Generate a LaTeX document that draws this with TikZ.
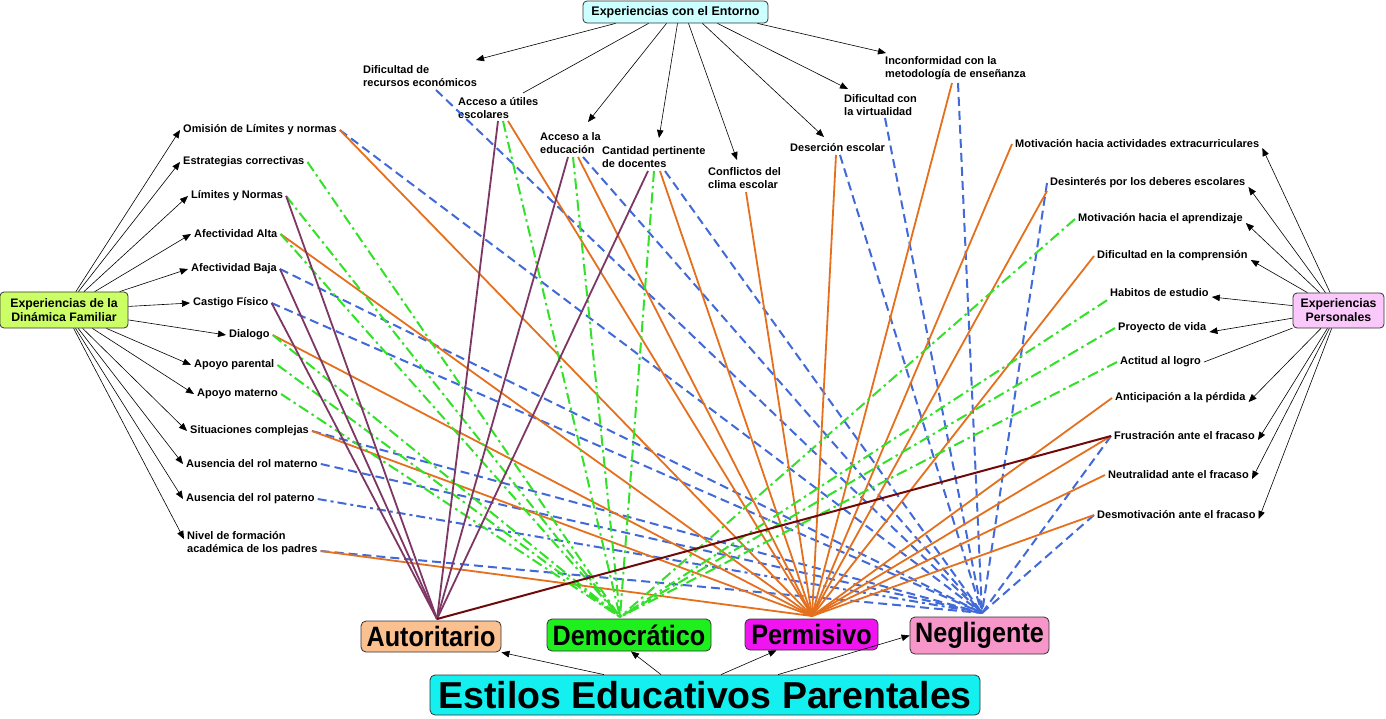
\documentclass[tikz,border=0pt]{standalone}
\usepackage{fontspec}
\setmainfont{Liberation Sans}
\newfontfamily\narrowfont[FakeStretch=0.9]{Liberation Sans}
\usetikzlibrary{arrows.meta}
\definecolor{cpur}{RGB}{125,55,100}
\definecolor{cgrn}{RGB}{50,225,40}
\definecolor{corg}{RGB}{228,112,30}
\definecolor{cblu}{RGB}{65,105,215}
\definecolor{cdred}{RGB}{110,10,10}
\definecolor{fent}{RGB}{204,255,255}
\definecolor{ffam}{RGB}{204,255,102}
\definecolor{fper}{RGB}{250,200,250}
\definecolor{faut}{RGB}{250,192,144}
\definecolor{fdem}{RGB}{30,240,30}
\definecolor{fperm}{RGB}{240,20,240}
\definecolor{fneg}{RGB}{247,150,200}
\definecolor{fest}{RGB}{20,240,240}
\newcommand\myitemfont{\fontsize{11}{13}\selectfont\bfseries}
\tikzset{
  item/.style={font=\myitemfont, inner sep=3pt, align=left, anchor=west},
  box/.style={draw=black!80, line width=0.8pt, rounded corners=4pt, inner sep=0pt, align=center},
  stylebox/.style={box, rounded corners=5pt, font=\narrowfont\bfseries\fontsize{28}{30}\selectfont},
  arr/.style={-{Triangle[length=8pt,width=6.5pt]}, line width=0.6pt, black},
  plainline/.style={line width=0.6pt, black},
  pur/.style={cpur, line width=1.8pt},
  grn/.style={cgrn, line width=2pt, dash pattern=on 11pt off 4pt on 2.5pt off 4pt},
  org/.style={corg, line width=1.8pt},
  blu/.style={cblu, line width=2pt, dash pattern=on 9pt off 5pt},
  bludd/.style={cblu, line width=2pt, dash pattern=on 9pt off 4pt on 3pt off 4pt},
  dred/.style={cdred, line width=2pt}
}
\begin{document}
\begin{tikzpicture}[x=1pt,y=-1pt]
\useasboundingbox[fill=white] (0,0) rectangle (1386,718);

% main boxes
\node[box, fill=fent, minimum width=185pt, minimum height=22pt, font=\fontsize{12.5}{14}\selectfont\bfseries] (ent) at (675.5,12) {Experiencias con el Entorno};
\node[box, fill=ffam, minimum width=128pt, minimum height=36pt, font=\fontsize{12.3}{14}\selectfont\bfseries] (fam) at (64,310) {Experiencias de la\\Dinámica Familiar};
\node[box, fill=fper, minimum width=91pt, minimum height=35pt, font=\fontsize{12.3}{14}\selectfont\bfseries] (per) at (1338.5,310.5) {Experiencias\\Personales};

\node[stylebox, fill=faut, minimum width=140pt, minimum height=31pt] (auto) at (431,636.5) {Autoritario};
\node[stylebox, fill=fdem, minimum width=164pt, minimum height=32pt] (demo) at (629,635) {Democrático};
\node[stylebox, fill=fperm, minimum width=133pt, minimum height=31pt] (perm) at (811.5,634.5) {Permisivo};
\node[stylebox, fill=fneg, minimum width=139pt, minimum height=37pt] (negl) at (979.5,635.5) {Negligente};
\node[box, rounded corners=5pt, fill=fest, minimum width=550pt, minimum height=40pt, font=\bfseries\fontsize{37.5}{40}\selectfont] (estilos) at (705,695) {Estilos Educativos Parentales};

% left items
\node[item] (om) at (180,130) {Omisión de Límites y normas};
\node[item] (estr) at (180,162) {Estrategias correctivas};
\node[item] (lim) at (188,196) {Límites y Normas};
\node[item] (aa) at (191,234) {Afectividad Alta};
\node[item] (ab) at (188,269) {Afectividad Baja};
\node[item] (cf) at (190,303) {Castigo Físico};
\node[item] (dia) at (226,335) {Dialogo};
\node[item] (ap) at (191,365) {Apoyo parental};
\node[item] (am) at (194,394) {Apoyo materno};
\node[item] (sc) at (187,431) {Situaciones complejas};
\node[item] (arm) at (183,464) {Ausencia del rol materno};
\node[item] (arp) at (183,499) {Ausencia del rol paterno};
\node[item] (nf) at (184,543) {Nivel de formación\\académica de los padres};

% top items
\node[item] (rec) at (360,76.5) {Dificultad de\\recursos económicos};
\node[item] (ut) at (455,108.5) {Acceso a útiles\\escolares};
\node[item] (edu) at (537,143.5) {Acceso a la\\educación};
\node[item] (doc) at (599,157.5) {Cantidad pertinente\\de docentes};
\node[item] (con) at (705,178.5) {Conflictos del\\clima escolar};
\node[item] (des) at (787,148) {Deserción escolar};
\node[item] (vir) at (841,105.5) {Dificultad con\\la virtualidad};
\node[item] (inc) at (882,68.5) {Inconformidad con la\\metodología de enseñanza};

% right items
\node[item] (mext) at (1012,144) {Motivación hacia actividades extracurriculares};
\node[item] (desi) at (1047,183) {Desinterés por los deberes escolares};
\node[item] (mapr) at (1075,219) {Motivación hacia el aprendizaje};
\node[item] (dcomp) at (1094,256) {Dificultad en la comprensión};
\node[item] (hab) at (1107,293) {Habitos de estudio};
\node[item] (proy) at (1115,328) {Proyecto de vida};
\node[item] (act) at (1117,362) {Actitud al logro};
\node[item] (ant) at (1112,398) {Anticipación a la pérdida};
\node[item] (frus) at (1111,436) {Frustración ante el fracaso};
\node[item] (neut) at (1105,475) {Neutralidad ante el fracaso};
\node[item] (desm) at (1094,515) {Desmotivación ante el fracaso};

% hubs
\coordinate (hA) at (437,619);
\coordinate (hD) at (620,617);
\coordinate (hP) at (812,616);
\coordinate (hN) at (982,613);

% start points of coloured lines at the top items
\coordinate (rec-b) at (436,90);
\coordinate (ut-p) at (498,121);
\coordinate (ut-g) at (503,121);
\coordinate (ut-o) at (508,121);
\coordinate (edu-p) at (568,157);
\coordinate (edu-g) at (573,157);
\coordinate (edu-o) at (578,157);
\coordinate (edu-b) at (583,157);
\coordinate (doc-p) at (648,171);
\coordinate (doc-g) at (654,171);
\coordinate (doc-o) at (660,171);
\coordinate (doc-b) at (665,171);
\coordinate (con-o) at (746,192);
\coordinate (des-o) at (836,155);
\coordinate (des-b) at (840,155);
\coordinate (vir-b) at (885,118);
\coordinate (inc-o) at (952,83);
\coordinate (inc-b) at (958,83);
\coordinate (nfb) at ([yshift=-8pt]nf.east);
\coordinate (desio) at ([yshift=-8pt]desi.west);

% arrow tips at the top items
\coordinate (rec-t) at (476,60);
\coordinate (ut-t) at (523,93);
\coordinate (edu-t) at (588,122);
\coordinate (doc-t) at (659,138);
\coordinate (con-t) at (737,160);
\coordinate (des-t) at (824,137);
\coordinate (vir-t) at (848,89);
\coordinate (inc-t) at (886,53);

% coloured connections
\foreach \s in {om.east, ab.east, cf.east, sc.east, arm.east, nfb, rec-b, edu-b, doc-b, des-b, vir-b, inc-b, desi.west, frus.west, desm.west}
  \draw[blu] (\s) -- (hN);
\draw[bludd] (arp.east) -- (hN);
\foreach \s in {om.east, aa.east, dia.east, sc.east, nfb, ut-o, edu-o, doc-o, con-o, des-o, inc-o, mext.west, desio, dcomp.west, ant.west, frus.west, neut.west, desm.west}
  \draw[org] (\s) -- (hP);
\foreach \s in {estr.east, lim.east, aa.east, dia.east, ap.east, am.east, ut-g, edu-g, doc-g, mapr.west, hab.south west, proy.west, act.west}
  \draw[grn] (\s) -- (hD);
\foreach \s in {lim.east, ab.east, cf.east, ut-p, edu-p, doc-p}
  \draw[pur] (\s) -- (hA);
\draw[dred] (frus.west) -- (hA);

% black arrows: familiar
\foreach \t in {om, estr, lim, aa, ab, cf, dia, ap, am, sc, arm, arp}
  \draw[arr] (fam) -- (\t.west);
\draw[arr] (fam) -- ([yshift=4pt]nf.west);

% black arrows: personales
\foreach \t in {mext, desi, mapr, dcomp, hab, proy, ant, frus, neut, desm}
  \draw[arr] (per) -- ([yshift=-4pt]\t.east);
\draw[plainline] (per) -- (act.east);

% black arrows: entorno
\draw[arr] ([xshift=-60pt]ent.south) -- (rec-t);
\draw[plainline] ([xshift=-27pt]ent.south) -- (ut-t);
\draw[arr] ([xshift=-9pt]ent.south) -- (edu-t);
\draw[arr] ([xshift=2pt]ent.south) -- (doc-t);
\draw[arr] ([xshift=13pt]ent.south) -- (con-t);
\draw[arr] ([xshift=27pt]ent.south) -- (des-t);
\draw[arr] ([xshift=42pt]ent.south) -- (vir-t);
\draw[arr] ([xshift=82pt]ent.south) -- (inc-t);

% black arrows: estilos
\draw[arr] ([xshift=-101pt]estilos.north) -- (auto.south east);
\draw[arr] ([xshift=-44pt]estilos.north) -- ([xshift=2pt]demo.south);
\draw[arr] ([xshift=16pt]estilos.north) -- ([xshift=-35pt]perm.south);
\draw[arr] ([xshift=73pt]estilos.north) -- (negl.west);
\end{tikzpicture}
\end{document}
